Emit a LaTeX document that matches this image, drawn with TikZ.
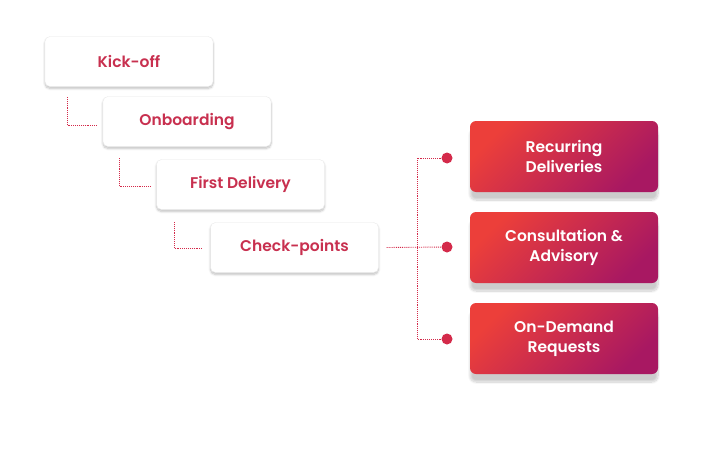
\documentclass[tikz,border=0pt]{standalone}
\usepackage{fontspec}
\setmainfont{Poppins}[UprightFont=* SemiBold]
\usetikzlibrary{shadows.blur}
\definecolor{txt}{HTML}{C8304F}
\definecolor{rA}{HTML}{EC3F3A}
\definecolor{rB}{HTML}{A81862}
\definecolor{dotc}{HTML}{D42A4A}
\tikzset{
 wbox/.style={draw=black!8,fill=white,rounded corners=5pt,minimum width=168pt,minimum height=50pt,text=txt,font=\fontsize{15.5}{17}\selectfont,blur shadow={shadow blur steps=8,shadow xshift=0pt,shadow yshift=-2pt,shadow opacity=25}},
 rbox/.style={rounded corners=6pt,minimum width=188pt,minimum height=71pt,text=white,font=\fontsize{15.5}{20}\selectfont,align=center,left color=rA,right color=rB,shading angle=45,blur shadow={shadow blur steps=10,shadow xshift=0pt,shadow yshift=-8pt,shadow opacity=20}},
 conn/.style={draw=dotc,densely dotted,line width=0.9pt},
 dot/.style={circle,fill=dotc,inner sep=0pt,minimum size=11pt},
}
\begin{document}
\begin{tikzpicture}[x=1pt,y=-1pt]
\useasboundingbox (0,0) rectangle (702,463);
\node[wbox] (k) at (129,61.5) {Kick-off};
\node[wbox] (o) at (187,121.5) {Onboarding};
\node[wbox] (f) at (240.5,184.5) {First Delivery};
\node[wbox] (c) at (294.5,247.5) {Check-points};
\node[rbox] (r1) at (564,156.5) {Recurring\\Deliveries};
\node[rbox] (r2) at (564,247.5) {Consultation \&\\Advisory};
\node[rbox] (r3) at (564,338.5) {On-Demand\\Requests};
\node[dot] (d1) at (447,158) {};
\node[dot] (d2) at (447,247) {};
\node[dot] (d3) at (447,339) {};
\coordinate (a1) at (67,97); \coordinate (a2) at (97,125);
\coordinate (b1) at (119,158); \coordinate (b2) at (150,186);
\coordinate (e1) at (174,222); \coordinate (e2) at (203,248);
\coordinate (j) at (417,247);
\draw[conn] (a1) |- (a2);
\draw[conn] (b1) |- (b2);
\draw[conn] (e1) |- (e2);
\draw[conn] ([xshift=8pt]c.east) -- (d2);
\draw[conn] (d1) -| (j);
\draw[conn] (d3) -| (j);
\end{tikzpicture}
\end{document}
